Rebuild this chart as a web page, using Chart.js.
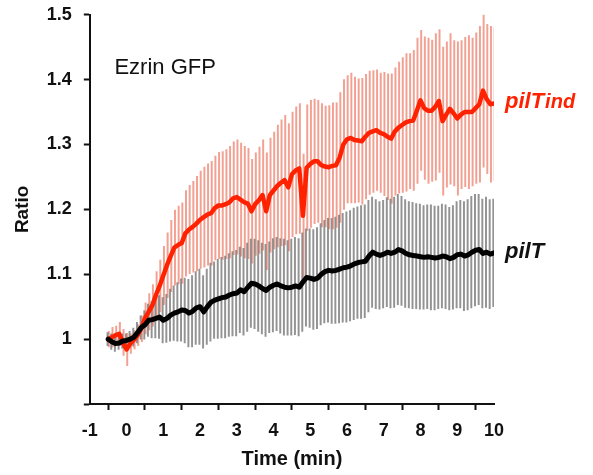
<!DOCTYPE html>
<html>
<head>
<meta charset="utf-8">
<script src="https://cdn.jsdelivr.net/npm/chart.js@4.4.1/dist/chart.umd.min.js"></script>
<style>
  html,body{margin:0;padding:0;background:#fff;}
  #wrap{width:593px;height:475px;}
</style>
</head>
<body>
<div id="wrap"><canvas id="chart" width="593" height="475"></canvas></div>
<script>
// Zeit (min)
const time = [
  -0.5,-0.4,-0.3,-0.2,-0.1,0.0,0.1,0.2,0.3,0.4,
  0.5,0.6,0.7,0.8,0.9,1.0,1.1,1.2,1.3,1.4,
  1.5,1.6,1.7,1.8,1.9,2.0,2.1,2.2,2.3,2.4,
  2.5,2.6,2.7,2.8,2.9,3.0,3.1,3.2,3.3,3.4,
  3.5,3.6,3.7,3.8,3.9,4.0,4.1,4.2,4.3,4.4,
  4.5,4.6,4.7,4.8,4.9,5.0,5.1,5.2,5.3,5.4,
  5.5,5.6,5.7,5.8,5.9,6.0,6.1,6.2,6.3,6.4,
  6.5,6.6,6.7,6.8,6.9,7.0,7.1,7.2,7.3,7.4,
  7.5,7.6,7.7,7.8,7.9,8.0,8.1,8.2,8.3,8.4,
  8.5,8.6,8.7,8.8,8.9,9.0,9.1,9.2,9.3,9.4,
  9.5,9.6,9.7,9.8,9.9,10.0
];

// pilT ind (rot): Mittelwert + Fehler
const indMean = [
  1.000,1.003,1.006,1.008,0.995,0.984,0.993,0.999,1.006,1.016,
  1.032,1.042,1.052,1.068,1.082,1.098,1.114,1.128,1.141,1.145,
  1.148,1.163,1.169,1.173,1.178,1.184,1.188,1.192,1.194,1.202,
  1.206,1.206,1.208,1.211,1.217,1.219,1.215,1.211,1.209,1.197,
  1.208,1.214,1.222,1.197,1.222,1.229,1.236,1.241,1.245,1.234,
  1.254,1.260,1.263,1.190,1.264,1.270,1.274,1.274,1.268,1.266,
  1.265,1.267,1.268,1.280,1.300,1.308,1.310,1.307,1.306,1.305,
  1.312,1.318,1.320,1.322,1.318,1.316,1.312,1.309,1.320,1.326,
  1.330,1.334,1.336,1.337,1.352,1.368,1.356,1.352,1.352,1.358,
  1.367,1.336,1.346,1.355,1.348,1.340,1.346,1.350,1.350,1.350,
  1.356,1.362,1.383,1.370,1.362,1.363
];
const indErr = [
  0.012,0.015,0.014,0.018,0.020,0.025,0.015,0.014,0.016,0.020,
  0.024,0.028,0.032,0.036,0.040,0.045,0.050,0.055,0.058,0.060,
  0.062,0.066,0.068,0.070,0.073,0.075,0.077,0.078,0.080,0.080,
  0.082,0.083,0.084,0.086,0.087,0.088,0.087,0.086,0.085,0.080,
  0.079,0.082,0.085,0.090,0.088,0.090,0.094,0.097,0.100,0.098,
  0.096,0.098,0.100,0.095,0.097,0.098,0.096,0.094,0.095,0.093,
  0.095,0.097,0.096,0.100,0.100,0.098,0.100,0.097,0.095,0.097,
  0.096,0.095,0.094,0.093,0.092,0.095,0.097,0.100,0.098,0.101,
  0.104,0.106,0.104,0.108,0.112,0.108,0.110,0.112,0.109,0.113,
  0.110,0.114,0.112,0.116,0.112,0.118,0.114,0.115,0.118,0.114,
  0.116,0.120,0.118,0.115,0.120,0.118
];

// pilT (schwarz): Mittelwert + Fehler
const wtMean = [
  1.000,0.996,0.993,0.994,0.997,0.998,1.000,1.003,1.010,1.018,
  1.022,1.029,1.030,1.032,1.034,1.029,1.032,1.037,1.040,1.042,
  1.045,1.044,1.040,1.043,1.048,1.050,1.042,1.050,1.057,1.060,
  1.062,1.064,1.065,1.068,1.070,1.071,1.076,1.073,1.080,1.086,
  1.085,1.082,1.078,1.075,1.080,1.083,1.085,1.082,1.080,1.079,
  1.080,1.082,1.080,1.088,1.095,1.094,1.092,1.094,1.100,1.104,
  1.106,1.105,1.106,1.108,1.110,1.111,1.113,1.116,1.118,1.119,
  1.120,1.128,1.134,1.131,1.129,1.131,1.134,1.132,1.134,1.138,
  1.136,1.132,1.130,1.129,1.128,1.127,1.126,1.127,1.126,1.125,
  1.126,1.128,1.127,1.124,1.126,1.130,1.131,1.128,1.130,1.134,
  1.137,1.138,1.132,1.134,1.131,1.133
];
const wtErr = [
  0.010,0.012,0.012,0.010,0.011,0.010,0.012,0.014,0.016,0.018,
  0.022,0.025,0.028,0.030,0.033,0.035,0.037,0.040,0.042,0.045,
  0.048,0.050,0.052,0.055,0.056,0.058,0.056,0.058,0.060,0.059,
  0.061,0.062,0.063,0.064,0.065,0.066,0.066,0.067,0.068,0.068,
  0.069,0.070,0.070,0.071,0.070,0.072,0.072,0.073,0.074,0.073,
  0.074,0.075,0.075,0.076,0.075,0.076,0.077,0.078,0.078,0.079,
  0.080,0.081,0.082,0.083,0.084,0.085,0.085,0.086,0.086,0.087,
  0.087,0.086,0.085,0.084,0.083,0.083,0.084,0.084,0.085,0.085,
  0.084,0.083,0.082,0.082,0.081,0.081,0.080,0.080,0.081,0.080,
  0.079,0.080,0.080,0.079,0.080,0.082,0.083,0.084,0.085,0.086,
  0.086,0.085,0.084,0.085,0.084,0.083
];

const xTicks = [-1,0,1,2,3,4,5,6,7,8,9,10];
const yTicks = [0.9,1.0,1.1,1.2,1.3,1.4,1.5];

const FONT = "'Liberation Sans', Arial, sans-serif";

// Punkte / Fehlerbalken aufbauen
const pts = (m)=>time.map((t,i)=>({x:t,y:m[i]}));
const bars = (m,e)=>time.map((t,i)=>({x:t,y:[m[i]-e[i],m[i]+e[i]]}));

// Beschriftungen im Diagramm
const labelsPlugin = {
  id:"labels",
  afterDatasetsDraw(c){
    const {ctx, scales:{x,y}} = c;
    ctx.save();
    ctx.textBaseline = "middle";
    ctx.textAlign = "left";
    ctx.fillStyle = "#111";
    ctx.font = `22px ${FONT}`;
    ctx.fillText("Ezrin GFP", x.getPixelForValue(-0.33), y.getPixelForValue(1.418));

    ctx.fillStyle = "#ff2200";
    ctx.font = `italic bold 22px ${FONT}`;
    const px = x.getPixelForValue(10.3), py = y.getPixelForValue(1.366);
    ctx.fillText("pilT", px, py);
    const w = ctx.measureText("pilT").width;
    ctx.font = `italic bold 20px ${FONT}`;
    ctx.fillText("ind", px + w + 1, py + 1);

    ctx.fillStyle = "#111";
    ctx.font = `italic bold 22px ${FONT}`;
    ctx.fillText("pilT", px, y.getPixelForValue(1.134));
    ctx.restore();
  }
};

new Chart(document.getElementById("chart"), {
  type:"line",
  data:{
    datasets:[
      {type:"bar", data:bars(indMean,indErr), backgroundColor:"rgba(238,128,108,0.75)", barThickness:1.3, order:4},
      {type:"bar", data:bars(wtMean,wtErr), backgroundColor:"rgba(120,120,120,0.8)", barThickness:1.3, order:3},
      {type:"line", data:pts(indMean), borderColor:"#ff2200", borderWidth:4.5, pointRadius:0, tension:0, borderJoinStyle:"round", borderCapStyle:"round", order:2},
      {type:"line", data:pts(wtMean), borderColor:"#000", borderWidth:5, pointRadius:0, tension:0, borderJoinStyle:"round", borderCapStyle:"round", order:1}
    ]
  },
  options:{
    responsive:false,
    animation:false,
    layout:{padding:{left:11, right:99, top:0, bottom:4}},
    plugins:{legend:{display:false}, tooltip:{enabled:false}},
    scales:{
      x:{
        type:"linear", min:-1, max:10, offset:false,
        afterBuildTicks:s=>{s.ticks = xTicks.map(v=>({value:v}));},
        afterFit:s=>{s.height = 67;},
        grid:{drawOnChartArea:false, tickLength:6, tickWidth:2, tickColor:"#111"},
        border:{display:true, width:2, color:"#111"},
        ticks:{color:"#111", padding:10, font:{family:FONT, size:18, weight:"bold"}},
        title:{display:true, text:"Time (min)", color:"#111", padding:{top:0,bottom:0}, font:{family:FONT, size:20, weight:"bold"}}
      },
      y:{
        type:"linear", min:0.9, max:1.5,
        afterBuildTicks:s=>{s.ticks = yTicks.map(v=>({value:v}));},
        grid:{drawOnChartArea:false, tickLength:6, tickWidth:2, tickColor:"#111"},
        border:{display:true, width:2, color:"#111"},
        ticks:{color:"#111", padding:12, font:{family:FONT, size:18, weight:"bold", lineHeight:0.3},
          callback:v=>Math.abs(v-0.9)<1e-6 ? "" : String(+v.toFixed(1))},
        title:{display:true, text:"Ratio", color:"#111", padding:{top:0,bottom:1}, font:{family:FONT, size:19, weight:"bold"}}
      }
    }
  },
  plugins:[labelsPlugin]
});
</script>
</body>
</html>
